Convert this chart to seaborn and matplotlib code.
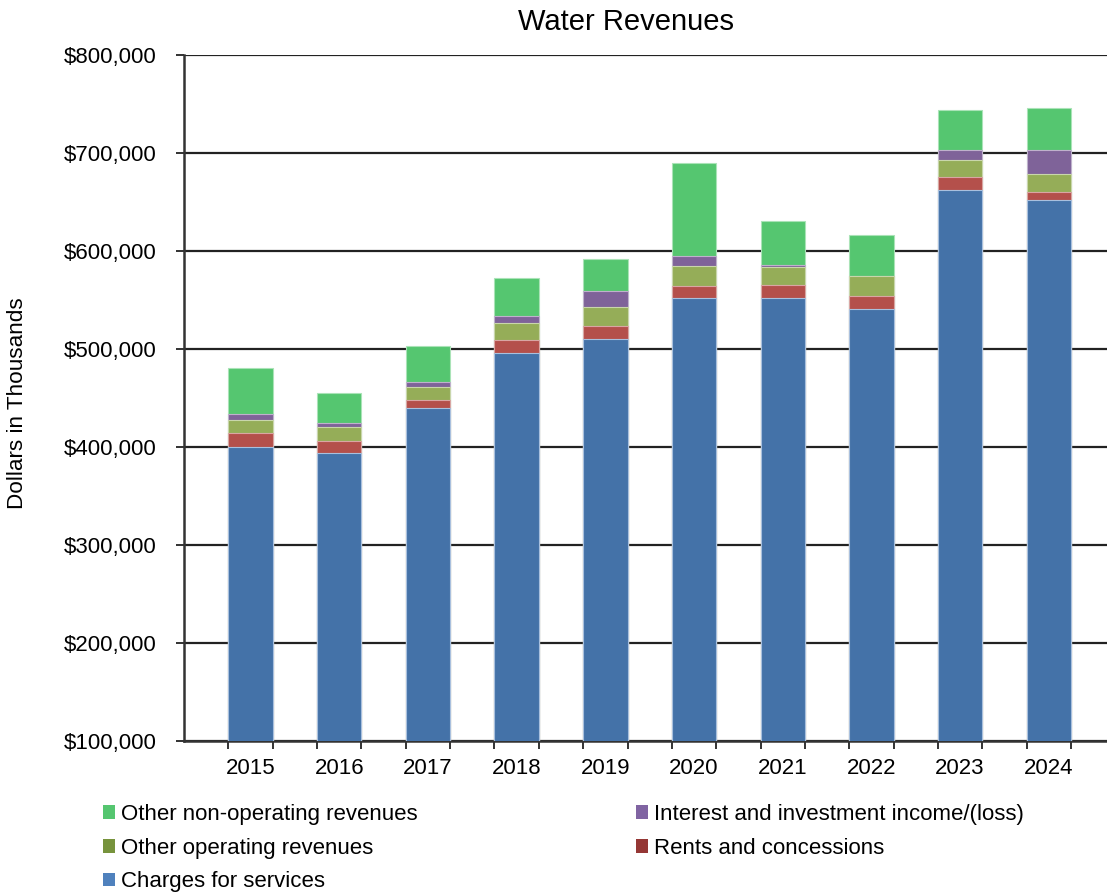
import matplotlib
matplotlib.use("Agg")
import matplotlib.pyplot as plt
from matplotlib.patches import Patch
from matplotlib.ticker import FuncFormatter
import seaborn as sns
import pandas as pd
import numpy as np

years = ["2015", "2016", "2017", "2018", "2019", "2020", "2021", "2022", "2023", "2024"]
charges_for_services = [400500, 394300, 439300, 496200, 510500, 552000, 551700, 540400, 662300, 651800]
rents_and_concessions = [13300, 12300, 8900, 12900, 13300, 12300, 13600, 14000, 13300, 8200]
other_operating = [13300, 13600, 13300, 17800, 19400, 20100, 18100, 19700, 16800, 18100]
interest_income = [6100, 4100, 4400, 6400, 15900, 10500, 2000, 500, 10800, 25100]
other_non_operating = [47000, 31000, 37000, 39000, 32400, 94700, 45700, 42000, 40900, 42300]

series_names = ["Charges for services", "Rents and concessions", "Other operating revenues",
                "Interest and investment income/(loss)", "Other non-operating revenues"]
series_values = [charges_for_services, rents_and_concessions, other_operating,
                 interest_income, other_non_operating]
bar_colors = ["#4472a8", "#b4504b", "#95ad58", "#7f6399", "#55c670"]
legend_colors = ["#4f81bd", "#953735", "#77933c", "#8064a2", "#55c670"]
edge_colors = ["#a9c0de", "#d9a6a3", "#c9d6ab", "#bfb1cc", "#aae3b7"]

sns.set_theme(style="white")
plt.rcParams["font.family"] = ["Liberation Sans", "DejaVu Sans"]
plt.rcParams["text.color"] = "black"
plt.rcParams["axes.labelcolor"] = "black"
plt.rcParams["xtick.color"] = "black"
plt.rcParams["ytick.color"] = "black"

fig = plt.figure(figsize=(11.07, 8.92), dpi=100)
ax = fig.add_axes([184 / 1107, 1 - 741 / 892, 1 - 184 / 1107, (741 - 55) / 892])

cum = np.cumsum(np.array(series_values), axis=0)
df = pd.DataFrame({"year": years})
# draw cumulative totals from top layer down so layers appear stacked
for i in range(len(series_names) - 1, -1, -1):
    df["v"] = cum[i]
    sns.barplot(data=df, x="year", y="v", order=years, color=bar_colors[i],
                saturation=1, width=0.5, edgecolor=edge_colors[i], linewidth=0.8,
                ax=ax, zorder=2 + (len(series_names) - i))

ax.set_ylim(100000, 800000)
ax.set_xlim(-0.75, -0.75 + (1107 - 184) / 88.7)
ax.set_yticks(np.arange(100000, 800001, 100000))
ax.yaxis.set_major_formatter(FuncFormatter(lambda v, p: "${:,.0f}".format(v)))
ax.set_axisbelow(True)
ax.yaxis.grid(True, color="#222222", linewidth=1.6, zorder=0)
ax.xaxis.grid(False)

# ticks at bar edges
edges = []
for k in range(len(years)):
    edges += [k - 0.25, k + 0.25]
ax.set_xticks(edges, minor=True)
ax.set_xticks(range(len(years)))
ax.set_xticklabels(years)
ax.tick_params(axis="x", which="major", length=0, pad=12, labelsize=16, labelcolor="black")
ax.tick_params(axis="x", which="minor", length=6, width=1.3, color="#222222", bottom=True)
ax.tick_params(axis="y", which="major", length=6, width=1.3, color="#222222", left=True,
               labelsize=16, pad=14, labelcolor="black")

for s in ["top", "right"]:
    ax.spines[s].set_visible(False)
for s in ["left", "bottom"]:
    ax.spines[s].set_color("#333333")
    ax.spines[s].set_linewidth(1.8)

ax.set_xlabel("")
ax.set_ylabel("")
fig.text(18 / 1107, 1 - 403 / 892, "Dollars in Thousands", rotation=90,
         ha="center", va="center", fontsize=16.2, color="black")
fig.text(626 / 1107, 1 - 22 / 892, "Water Revenues", ha="center", va="center",
         fontsize=21, color="black")

order = [4, 2, 0, 3, 1]
handles = [Patch(facecolor=legend_colors[i], edgecolor="none") for i in order]
labels = [series_names[i] for i in order]
leg = fig.legend(handles, labels, loc="upper left", bbox_to_anchor=(103 / 1107, 1 - 804 / 892),
                 ncol=2, frameon=False, fontsize=16, handlelength=0.55, handleheight=0.55,
                 handletextpad=0.27, columnspacing=9.8, labelspacing=0.57, borderaxespad=0,
                 borderpad=0, labelcolor="black")

fig.savefig("out.png", dpi=100)
